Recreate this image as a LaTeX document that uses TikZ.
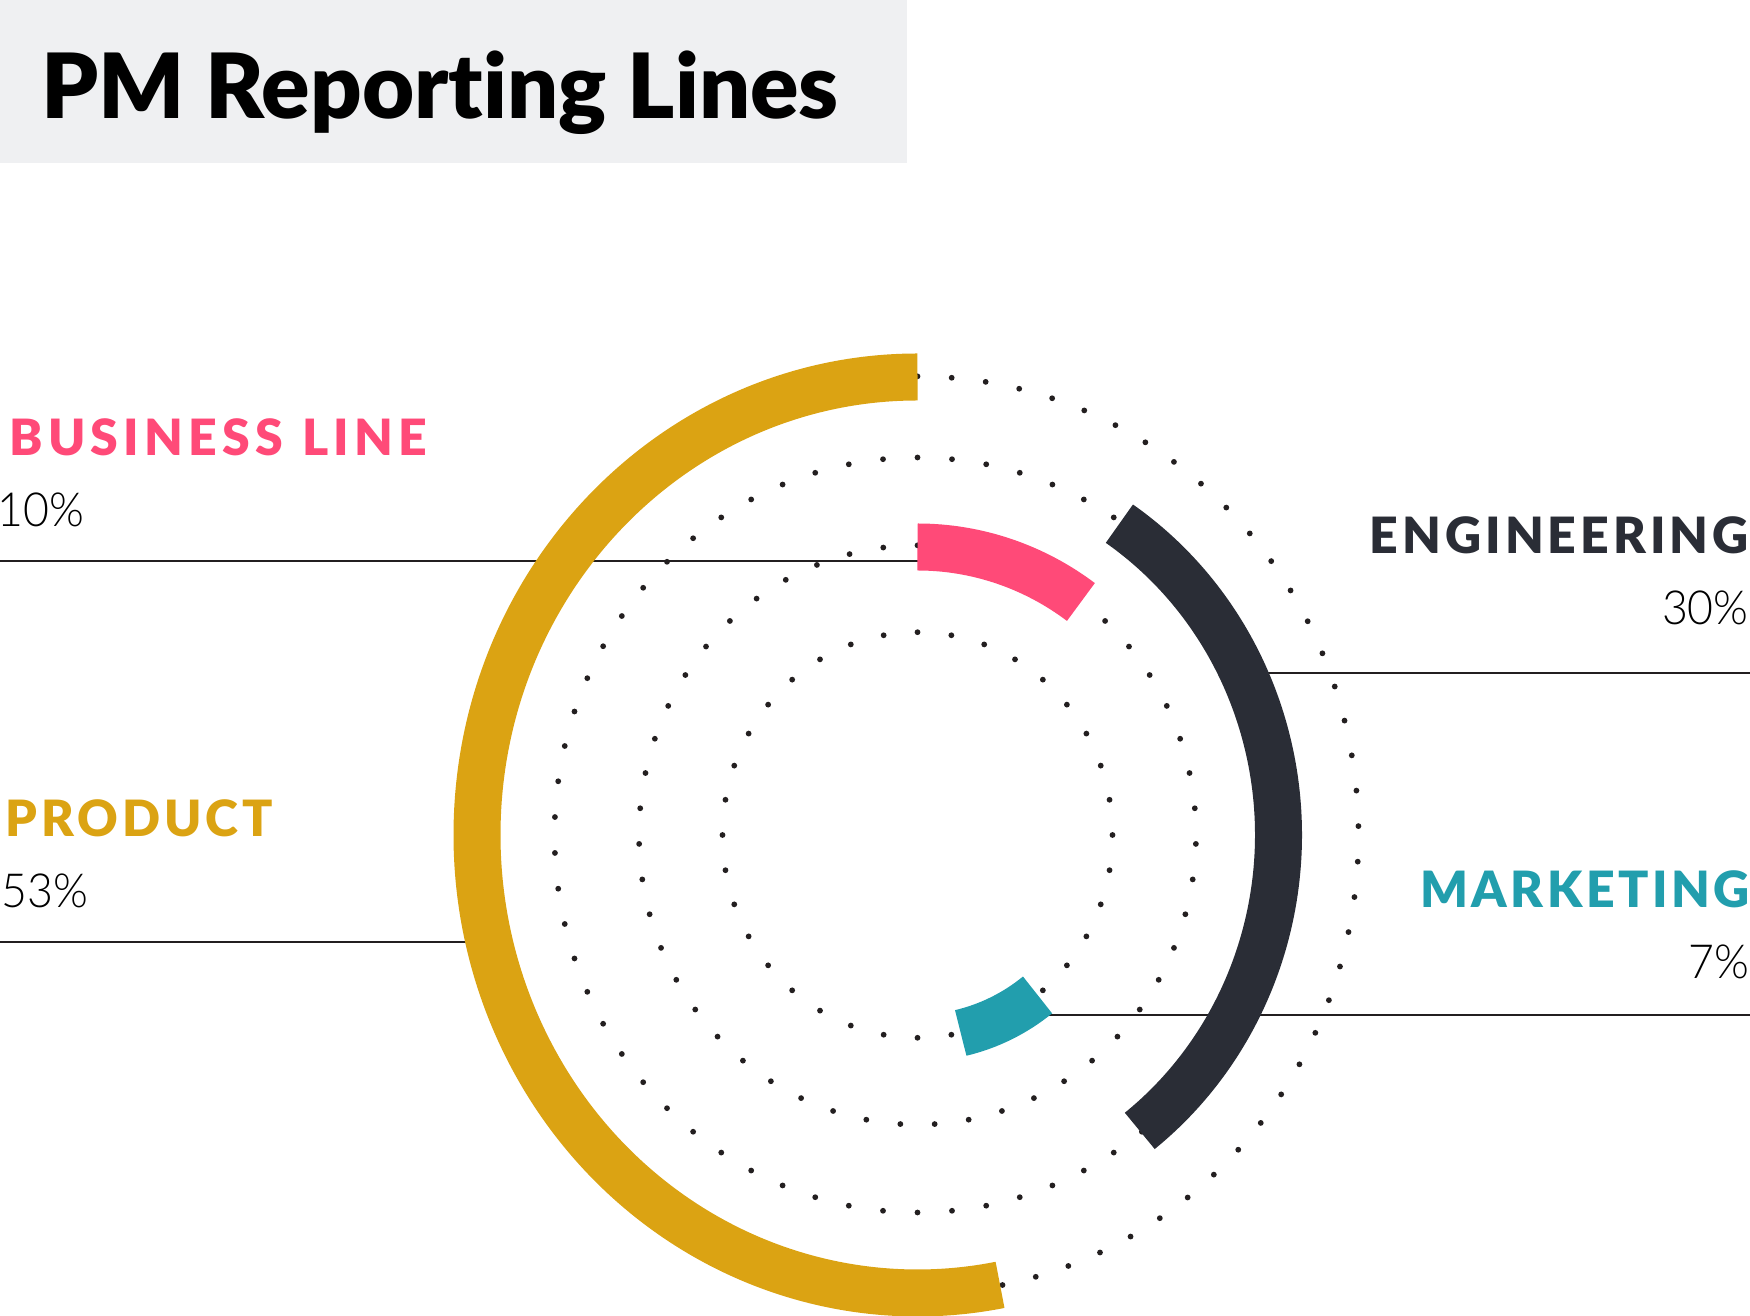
\documentclass[tikz,border=0pt]{standalone}
\usepackage{fontspec}
\setmainfont{Lato}
\newfontfamily\latolight{Lato Light}
\newfontfamily\latoblack{Lato Black}
\definecolor{goldc}{HTML}{DBA313}
\definecolor{pinkc}{HTML}{FF4A78}
\definecolor{darkc}{HTML}{2A2D36}
\definecolor{tealc}{HTML}{229EAD}
\definecolor{titlebg}{HTML}{EFF0F2}
\definecolor{dotc}{HTML}{231F20}
\newcommand\mytitlefont{\latoblack\fontsize{45}{45}\selectfont}
\newcommand\mycatfont{\latoblack\fontsize{25}{25}\selectfont\addfontfeatures{LetterSpace=8}}
\newcommand\mypctfont{\latolight\fontsize{23.5}{23.5}\selectfont}
\begin{document}
\begin{tikzpicture}[x=0.5pt,y=0.5pt,
  catlabel/.style={font=\mycatfont, inner sep=0pt},
  pctlabel/.style={font=\mypctfont, inner sep=0pt, text=black, xscale=0.95},
  band/.style={line width=23.5pt},
  rule/.style={draw=dotc, line width=1pt}]
\useasboundingbox (0,0) rectangle (1750,1316);
\fill[titlebg] (0,1153) rectangle (907,1316);
\node[anchor=base west, inner sep=0pt, font=\mytitlefont] (title) at (41,1197) {PM Report\kern0pt ing Lines};
% dotted rings
\foreach \R/\N in {195/36, 278.5/51, 363/66, 441/81}{
  \foreach \i in {1,...,\N}{
    \pgfmathsetmacro\ang{90+(360/\N)*\i}
    \fill[dotc] ({917.5+\R*cos(\ang)},{481+1.04*\R*sin(\ang)}) circle[radius=2.9];
  }
}
% rules
\draw[rule] (0,755) -- (917.5,755);
\draw[rule] (0,374) -- (480,374);
\draw[rule] (1240,643) -- (1750,643);
\draw[rule] (1030,301) -- (1750,301);
% bands
\draw[goldc, band] (917.5,939) arc[start angle=90, end angle=280.8, x radius=440.5, y radius=458];
\draw[darkc, band] ({917.5+361*cos(56)},{481+375.5*sin(56)}) arc[start angle=56, end angle=-52, x radius=361, y radius=375.5];
\draw[pinkc, band] (917.5,769) arc[start angle=90, end angle=54, x radius=278, y radius=288];
\draw[tealc, band] ({917.5+195*cos(-52)},{481+203*sin(-52)}) arc[start angle=-52, end angle=-77.2, x radius=195, y radius=203];
% labels
\node[catlabel, text=pinkc, anchor=base west] (bl) at (9,860) {\addfontfeatures{LetterSpace=10.5}BUSINESS\hspace{1pt} LINE};
\node[pctlabel, anchor=base west] (blp) at (-3,789) {10\%};
\node[catlabel, text=goldc, anchor=base west] (pr) at (5,479) {PRODUCT};
\node[pctlabel, anchor=base west] (prp) at (1,408) {53\%};
\node[catlabel, text=darkc, anchor=base east] (en) at (1749,762) {ENGINEERING};
\node[pctlabel, anchor=base east] (enp) at (1749,691) {30\%};
\node[catlabel, text=tealc, anchor=base east] (mk) at (1750,408) {\addfontfeatures{LetterSpace=7}MARKETING};
\node[pctlabel, anchor=base east] (mkp) at (1750,337) {7\%};
\end{tikzpicture}
\end{document}
